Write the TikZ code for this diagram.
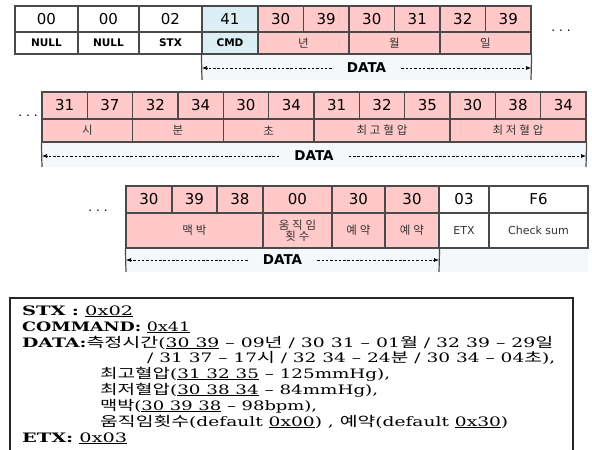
\documentclass[tikz,border=0pt]{standalone}
\usepackage{graphicx}
\usepackage{fontspec}
\setmainfont{DejaVu Serif}
\newfontfamily\kr{Noto Sans CJK KR}
\newfontfamily\krsp{Noto Sans CJK KR}[LetterSpace=25]
\newfontfamily\cellfont{DejaVu Sans}
\usetikzlibrary{arrows.meta}
\definecolor{lc}{HTML}{4A4A4A}
\definecolor{pinkc}{HTML}{FFC9C9}
\definecolor{cmdc}{HTML}{DAEEF3}
\definecolor{bandc}{HTML}{F4F8FB}
\newcommand\mycell[7]{\node[#6, minimum width={(#4-#2)*1pt}, minimum height={(#5-#3)*1pt}] (#1) at ({(#2+#4)/2},{(#3+#5)/2}) {#7};}
\newcommand\myband[5]{\fill[bandc] (#2,#3) rectangle (#4,#5); \coordinate (#1) at (#2,#3);}
\newcommand\fitline[2]{\resizebox{#1pt}{\height}{#2}}
\newcommand\ko[1]{{\kr\fontsize{13.5}{14}\selectfont #1}}
\tikzset{
  cellbase/.style={draw=lc, line width=1.2pt, inner sep=0pt, align=center, text=black},
  numw/.style={cellbase, fill=white, font=\cellfont\fontsize{15}{15}\selectfont},
  nump/.style={cellbase, fill=pinkc, font=\cellfont\fontsize{15}{15}\selectfont},
  numc/.style={cellbase, fill=cmdc, font=\cellfont\fontsize{15}{15}\selectfont},
  labw/.style={cellbase, fill=white, font=\cellfont\bfseries\fontsize{10.5}{10.5}\selectfont},
  labc/.style={cellbase, fill=cmdc, font=\cellfont\bfseries\fontsize{10.5}{10.5}\selectfont},
  labp/.style={cellbase, fill=pinkc, text=black!80, font=\krsp\fontsize{11.5}{13}\selectfont},
  labwr/.style={cellbase, fill=white, text=black!80, font=\cellfont\fontsize{11}{11}\selectfont},
  vline/.style={draw=lc, line width=1.2pt},
  darrow/.style={draw=black, line width=0.7pt, dash pattern=on 2.5pt off 1.8pt, -{Latex[length=5pt,width=4pt]}},
  datalab/.style={font=\cellfont\bfseries\fontsize{13.5}{13.5}\selectfont, inner xsep=15pt, inner ysep=0pt},
  dotsn/.style={font=\cellfont\fontsize{12}{12}\selectfont},
  boxline/.style={anchor=base west, inner sep=0pt, font=\fontsize{13}{13}\selectfont},
}
\begin{document}
\begin{tikzpicture}[x=1pt,y=-1pt]
\useasboundingbox (0,0) rectangle (592,450);
% ---------- row 1 ----------
\myband{b1}{202}{54}{531}{80}
\mycell{a1}{15}{6}{78}{32}{numw}{00}
\mycell{a2}{78}{6}{139}{32}{numw}{00}
\mycell{a3}{139}{6}{202}{32}{numw}{02}
\mycell{a4}{202}{6}{258}{32}{numc}{41}
\mycell{a5}{258}{6}{303.5}{32}{nump}{30}
\mycell{a6}{303.5}{6}{349}{32}{nump}{39}
\mycell{a7}{349}{6}{394.5}{32}{nump}{30}
\mycell{a8}{394.5}{6}{440}{32}{nump}{31}
\mycell{a9}{440}{6}{485.5}{32}{nump}{32}
\mycell{a10}{485.5}{6}{531}{32}{nump}{39}
\mycell{l1}{15}{32}{78}{54}{labw}{NULL}
\mycell{l2}{78}{32}{139}{54}{labw}{NULL}
\mycell{l3}{139}{32}{202}{54}{labw}{STX}
\mycell{l4}{202}{32}{258}{54}{labc}{CMD}
\mycell{l5}{258}{32}{349}{54}{labp}{년}
\mycell{l6}{349}{32}{440}{54}{labp}{월}
\mycell{l7}{440}{32}{531}{54}{labp}{일}
\coordinate (d1l) at (202,68);
\coordinate (d1r) at (531,68);
\draw[vline] (l4.south west) -- (202,80);
\draw[vline] (l7.south east) -- (531,80);
\node[datalab] (dt1) at (366.5,68) {DATA};
\draw[darrow] (dt1.west) -- (d1l);
\draw[darrow] (dt1.east) -- (d1r);
\node[dotsn] (dots1) at (561,31) {.\,\,.\,\,.};
% ---------- row 2 ----------
\myband{b2}{42}{142}{586}{167}
\mycell{c1}{42}{92}{87.3}{119}{nump}{31}
\mycell{c2}{87.3}{92}{132.7}{119}{nump}{37}
\mycell{c3}{132.7}{92}{178}{119}{nump}{32}
\mycell{c4}{178}{92}{223.3}{119}{nump}{34}
\mycell{c5}{223.3}{92}{268.7}{119}{nump}{30}
\mycell{c6}{268.7}{92}{314}{119}{nump}{34}
\mycell{c7}{314}{92}{359.3}{119}{nump}{31}
\mycell{c8}{359.3}{92}{404.7}{119}{nump}{32}
\mycell{c9}{404.7}{92}{450}{119}{nump}{35}
\mycell{c10}{450}{92}{495.3}{119}{nump}{30}
\mycell{c11}{495.3}{92}{540.7}{119}{nump}{38}
\mycell{c12}{540.7}{92}{586}{119}{nump}{34}
\mycell{m1}{42}{119}{132.7}{142}{labp}{시}
\mycell{m2}{132.7}{119}{223.3}{142}{labp}{분}
\mycell{m3}{223.3}{119}{314}{142}{labp}{초}
\mycell{m4}{314}{119}{450}{142}{labp}{최고혈압}
\mycell{m5}{450}{119}{586}{142}{labp}{최저혈압}
\coordinate (d2l) at (42,156);
\coordinate (d2r) at (586,156);
\draw[vline] (m1.south west) -- (42,167);
\draw[vline] (m5.south east) -- (586,167);
\node[datalab] (dt2) at (314,156) {DATA};
\draw[darrow] (dt2.west) -- (d2l);
\draw[darrow] (dt2.east) -- (d2r);
\node[dotsn] (dots2) at (28,116) {.\,\,.\,\,.};
% ---------- row 3 ----------
\myband{b3}{126}{248}{588}{272}
\mycell{e1}{126}{186}{172}{213}{nump}{30}
\mycell{e2}{172}{186}{217}{213}{nump}{39}
\mycell{e3}{217}{186}{263}{213}{nump}{38}
\mycell{e4}{263}{186}{332}{213}{nump}{00}
\mycell{e5}{332}{186}{385}{213}{nump}{30}
\mycell{e6}{385}{186}{439}{213}{nump}{30}
\mycell{e7}{439}{186}{489}{213}{numw}{03}
\mycell{e8}{489}{186}{588}{213}{numw}{F6}
\mycell{n1}{126}{213}{263}{248}{labp}{맥박}
\mycell{n2}{263}{213}{332}{248}{labp}{움직임\\[-2pt]횟수}
\mycell{n3}{332}{213}{385}{248}{labp}{예약}
\mycell{n4}{385}{213}{439}{248}{labp}{예약}
\mycell{n5}{439}{213}{489}{248}{labwr}{ETX}
\mycell{n6}{489}{213}{588}{248}{labwr}{Check sum}
\coordinate (d3l) at (126,260);
\coordinate (d3r) at (439,260);
\draw[vline] (n1.south west) -- (126,272);
\draw[vline] (n4.south east) -- (439,272);
\node[datalab] (dt3) at (282.5,260) {DATA};
\draw[darrow] (dt3.west) -- (d3l);
\draw[darrow] (dt3.east) -- (d3r);
\node[dotsn] (dots3) at (98,211) {.\,\,.\,\,.};
% ---------- description box ----------
\coordinate (bx1) at (10,451);
\coordinate (bx2) at (10,298);
\coordinate (bx3) at (573,298);
\coordinate (bx4) at (573,451);
\draw[line width=1.2pt, draw=black!85] (bx1) -- (bx2) -- (bx3) -- (bx4);
\node[boxline] (t1) at (22,315) {\fitline{111}{\textbf{STX} \textbf{:} \underline{0x02}}};
\node[boxline] (t2) at (22,331) {\fitline{168}{\textbf{COMMAND:} \underline{0x41}}};
\node[boxline] (t3) at (22,347) {\fitline{531}{\textbf{DATA:}\ko{측정시간}(\underline{30 39} – 09\ko{년} / 30 31 – 01\ko{월} / 32 39 – 29\ko{일}}};
\node[boxline] (t4) at (147,362) {\fitline{408}{/ 31 37 – 17\ko{시} / 32 34 – 24\ko{분} / 30 34 – 04\ko{초}),}};
\node[boxline] (t5) at (100,378) {\fitline{290}{\ko{최고혈압}(\underline{31 32 35} – 125mmHg),}};
\node[boxline] (t6) at (100,394) {\fitline{278}{\ko{최저혈압}(\underline{30 38 34} – 84mmHg),}};
\node[boxline] (t7) at (100,410) {\fitline{217}{\ko{맥박}(\underline{30 39 38} – 98bpm),}};
\node[boxline] (t8) at (100,426) {\fitline{408}{\ko{움직임횟수}(default \underline{0x00}) , \ko{예약}(default \underline{0x30})}};
\node[boxline] (t9) at (22,442) {\fitline{105}{\textbf{ETX:} \underline{0x03}}};
\end{tikzpicture}
\end{document}
